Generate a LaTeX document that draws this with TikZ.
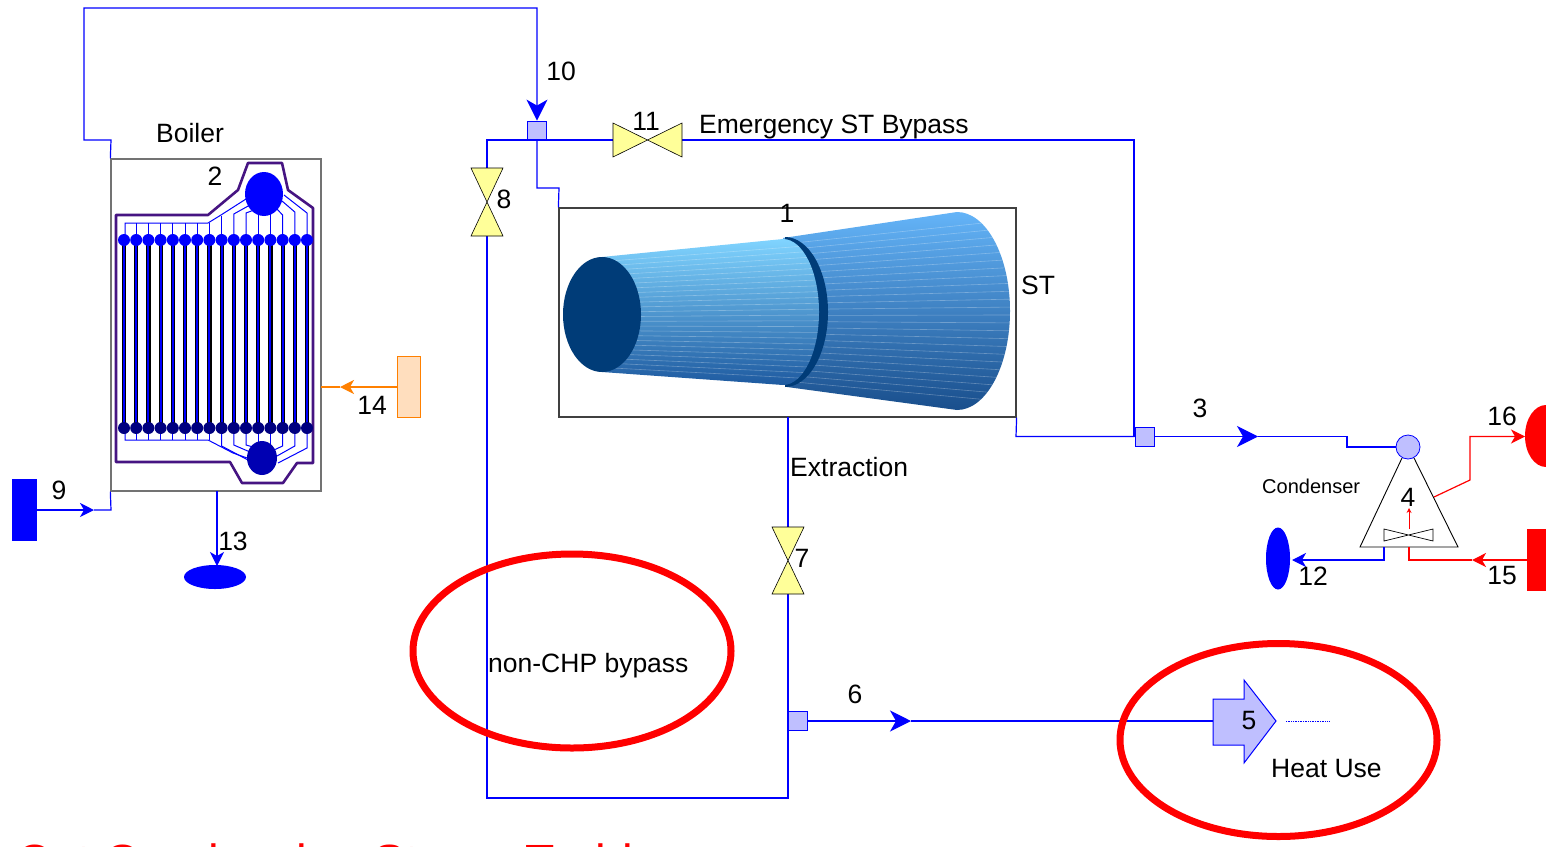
\documentclass[tikz,border=0pt]{standalone}
\usepackage{fontspec}
\setmainfont{Liberation Sans}
\usetikzlibrary{arrows.meta,shapes.geometric,calc}
\definecolor{pipeblue}{RGB}{0,0,255}
\definecolor{lav}{RGB}{191,191,255}
\definecolor{valvey}{RGB}{255,255,153}
\definecolor{navyst}{RGB}{0,60,120}
\definecolor{boilpurple}{RGB}{70,20,130}
\definecolor{peach}{RGB}{255,222,190}
\definecolor{orng}{RGB}{255,128,0}
\definecolor{hdrdark}{RGB}{0,0,128}
\definecolor{lt}{RGB}{128,212,255}
\definecolor{lm}{RGB}{90,165,235}
\definecolor{lb}{RGB}{30,90,160}
\definecolor{rt}{RGB}{100,180,248}
\definecolor{rm}{RGB}{65,135,210}
\definecolor{rb}{RGB}{25,78,140}
\begin{document}
\begin{tikzpicture}[x=1pt,y=-1pt,
  pipe/.style={draw=pipeblue,line width=1.2pt},
  redpipe/.style={draw=red,line width=1.2pt},
  lbl/.style={font=\fontsize{26.5}{30}\selectfont,inner sep=0pt},
  bigarr/.style={-{Stealth[length=21pt,width=21pt,inset=6pt]}},
  smallarr/.style={-{Stealth[length=14pt,width=14pt,inset=4pt]}},
  sq/.style={draw=pipeblue,fill=lav,minimum width=19pt,minimum height=19pt,inner sep=0pt,line width=0.8pt},
  valvefill/.style={fill=valvey,draw=black,line width=0.6pt},
  redring/.style={draw=red,line width=7pt},
  stripe/.style={draw=white,opacity=0.28,line width=0.6pt}]
\clip (0,0) rectangle (1546,846);
\fill[white] (0,0) rectangle (1546,846);

% ---------- main boxes
\node[draw=black!55,line width=1.3pt,minimum width=210pt,minimum height=332pt,inner sep=0pt] (boiler) at (216,325) {};
\node[draw=black!75,line width=1.2pt,minimum width=457pt,minimum height=209pt,inner sep=0pt] (st) at (787.5,312.5) {};

% ---------- turbine
\shade[top color=rt,middle color=rm,bottom color=rb] (783,238) -- (957,212) arc[start angle=90,end angle=-90,x radius=53pt,y radius=99pt] -- (787,387) -- cycle;
\begin{scope}
  \clip (783,238) -- (957,212) arc[start angle=90,end angle=-90,x radius=53pt,y radius=99pt] -- (787,387) -- cycle;
  \foreach \t in {0.04,0.08,...,0.97} {\draw[stripe] (785,238+149*\t) -- (1012,212+198*\t);}
\end{scope}
\fill[navyst] (785,237) arc[start angle=90,end angle=-90,x radius=43pt,y radius=75pt] -- cycle;
\shade[top color=lt,middle color=lm,bottom color=lb] (602,257) -- (783,239) arc[start angle=90,end angle=-90,x radius=36pt,y radius=73pt] -- (602,372) -- cycle;
\begin{scope}
  \clip (602,257) -- (783,239) arc[start angle=90,end angle=-90,x radius=36pt,y radius=73pt] -- (602,372) -- cycle;
  \foreach \t in {0.04,0.08,...,0.97} {\draw[stripe] (602,257+115*\t) -- (820,239+146*\t);}
\end{scope}
\fill[navyst] (602,314.5) ellipse [x radius=39pt,y radius=57.5pt];

% ---------- boiler internals
\draw[boilpurple,line width=2.6pt,line join=round] (116,215) -- (208,215) -- (238,190) -- (248,163) -- (282,163) -- (288,190) -- (313,208) -- (313,463) -- (297,463) -- (283,483) -- (242,483) -- (230,462) -- (116,462) -- cycle;
\begin{scope}[pipeblue,line width=1pt]
  \draw (125,240) -- (125,223) -- (208,223) -- (221,215) -- (246,199);
  \foreach \i in {1,...,7} {\draw (124+\i*12.2,240) -- (124+\i*12.2,223);}
  \draw (221.6,240) -- (221.6,216);
  \draw (233.8,240) -- (233.8,214) -- (250,205);
  \draw (246,240) -- (246,213) -- (254,210);
  \draw (258.2,240) -- (258.2,214);
  \draw (270.4,240) -- (270.4,214);
  \draw (282.6,240) -- (282.6,215) -- (276,208);
  \draw (294.8,240) -- (294.8,212) -- (282,201);
  \draw (307,240) -- (307,213) -- (284,195);
  \draw (125,428) -- (125,440) -- (208,440) -- (233,453) -- (250,459);
  \foreach \i in {1,...,7} {\draw (124+\i*12.2,428) -- (124+\i*12.2,440);}
  \draw (221.6,428) -- (221.6,446) -- (248,460);
  \draw (233.8,428) -- (233.8,445) -- (250,452);
  \draw (246,428) -- (246,445) -- (253,447);
  \draw (258.2,428) -- (258.2,444);
  \draw (270.4,428) -- (270.4,444);
  \draw (282.6,428) -- (282.6,446) -- (274,450);
  \draw (294.8,428) -- (294.8,446) -- (277,456);
  \draw (307,428) -- (307,448) -- (278,463);
\end{scope}
\foreach \i in {0,...,15} {
  \draw[black,line width=4.2pt] (124+\i*12.2,240) -- (124+\i*12.2,428);
  \draw[pipeblue,line width=2pt] (124+\i*12.2,240) -- (124+\i*12.2,428);
}
\foreach \i in {0,...,15} {
  \fill[pipeblue] (124+\i*12.2,240) circle[radius=6pt];
  \fill[hdrdark] (124+\i*12.2,428) circle[radius=6pt];
}
\fill[pipeblue] (264,194) ellipse [x radius=19pt,y radius=22pt];
\fill[blue!70!black] (262,458) ellipse [x radius=15pt,y radius=17pt];

% ---------- squares, condenser node
\node[sq] (s10) at (537,130.5) {};
\node[sq] (s3) at (1144.5,436.5) {};
\node[sq] (s6) at (798,721) {};
\node[circle,draw=pipeblue,fill=lav,minimum size=24pt,inner sep=0pt,line width=0.8pt] (cc) at (1408,447) {};

\coordinate (v8) at (487,202);
\coordinate (v7) at (788,560.5);
\coordinate (v11) at (647.5,140);
\coordinate (a3) at (1258,436.5);
\coordinate (a6) at (911,721);
\coordinate (hu) at (1213,721);

% ---------- pipes
\draw[pipe,bigarr] (boiler.north west) -- (111,140) -- (84,140) -- (84,8) -| (s10.north);
\draw[pipe] (487,168) -- (487,140) -- (613,140);
\draw[pipe] (682,140) -- (1134,140) -- (1134,436.5);
\draw[pipe] (s10.south) -- (537,188) -- (559,188) -- (st.north west);
\draw[pipe] (st.south east) -- (1016,436.5) -- (s3.west);
\draw[pipe,bigarr] (s3.east) -- (a3);
\draw[pipe] (a3) -- (1347,436.5) |- (cc.west);
\draw[pipe] (487,236) -- (487,798) -- (788,798) -- (788,594);
\draw[pipe] (788,527) -- (788,417);
\draw[pipe,bigarr] (s6.east) -- (a6);
\draw[pipe] (a6) -- (hu);

% ---------- valves
\draw[valvefill] (613,123) -- (v11) -- (613,157) -- cycle;
\draw[valvefill] (682,123) -- (v11) -- (682,157) -- cycle;
\draw[valvefill] (471,168) -- (503,168) -- (v8) -- cycle;
\draw[valvefill] (471,236) -- (503,236) -- (v8) -- cycle;
\draw[valvefill] (772,527) -- (804,527) -- (v7) -- cycle;
\draw[valvefill] (772,594) -- (804,594) -- (v7) -- cycle;

% ---------- boiler streams
\fill[pipeblue] (12,479) rectangle (37,541);
\draw[pipe,smallarr] (37,510) -- (94,510);
\draw[pipe] (94,510) -- (111,510) -- (boiler.south west);
\draw[pipe,smallarr] (217,491) -- (217,566);
\fill[pipeblue] (215,577) ellipse [x radius=31pt,y radius=12pt];
\draw[draw=orng,fill=peach,line width=1pt] (397,356) rectangle (420,417);
\draw[orng,line width=1.2pt,smallarr] (397,387) -- (340,387);
\draw[orng,line width=1.2pt] (340,387) -- (321,387);

% ---------- condenser
\draw[black,line width=0.9pt,line join=miter] (1402,458) -- (1360,547) -- (1458,547) -- (1414,458);
\draw[black,line width=0.7pt] (1384,529) -- (1433,541) -- (1433,529) -- (1384,541) -- cycle;
\draw[red,line width=0.8pt,-{Stealth[length=5pt,width=5pt]}] (1409,529) -- (1409,508);
\draw[redpipe,smallarr] (1434,497) -- (1470,480) -- (1470,436.5) -- (1525,436.5);
\fill[red] (1546,436) ellipse [x radius=21pt,y radius=31pt];
\fill[red] (1527,529) rectangle (1546,591);
\draw[redpipe,smallarr] (1527,560) -- (1472,560);
\draw[redpipe] (1472,560) -- (1409,560) -- (1409,547);
\draw[pipe,smallarr] (1384,547) -- (1384,560) -- (1292,560);
\fill[pipeblue] (1278,558.5) ellipse [x radius=12pt,y radius=31pt];

% ---------- heat use
\draw[draw=pipeblue,fill=lav,line width=1pt,line join=miter] (hu) -- (1213,699) -- (1244,699) -- (1244,680) -- (1276,721) -- (1244,763) -- (1244,745) -- (1213,745) -- cycle;
\draw[pipeblue,line width=0.8pt,dash pattern=on 1pt off 0.7pt] (1286,721) -- (1330,721);

% ---------- labels
\node[lbl] (l10) at (561,71) {10};
\node[lbl,anchor=base west] (lboiler) at (156,142) {Boiler};
\node[lbl] (l2) at (215,176) {2};
\node[lbl] (l11) at (646,121) {11};
\node[lbl,anchor=base west] (lemerg) at (699,133) {Emergency ST Bypass};
\node[lbl] (l8) at (504,199) {8};
\node[lbl] (l1) at (787,213) {1};
\node[lbl,anchor=base west] (lst) at (1021,294) {ST};
\node[lbl] (l3) at (1200,408) {3};
\node[lbl] (l14) at (372,405) {14};
\node[lbl] (l9) at (59,490) {9};
\node[lbl] (l13) at (233,541) {13};
\node[lbl,anchor=base west] (lextr) at (790,476) {Extraction};
\node[lbl] (l7) at (802,558) {7};
\node[inner sep=0pt,anchor=base west,font=\fontsize{20}{24}\selectfont] (lcond) at (1262,493) {Condenser};
\node[lbl] (l4) at (1408,497) {4};
\node[lbl] (l16) at (1502,416) {16};
\node[lbl] (l12) at (1313,576) {12};
\node[lbl] (l15) at (1502,576) {15};
\node[lbl,anchor=base west] (lnon) at (488,672) {non-CHP bypass};
\node[lbl] (l6) at (855,694) {6};
\node[lbl] (l5) at (1249,721) {5};
\node[lbl,anchor=base west] (lheat) at (1271,777) {Heat Use};
\node[anchor=base west,inner sep=0pt,text=red,font=\fontsize{48}{56}\selectfont] (title) at (16,878) {Cut Condensing Steam Turbine};

% ---------- red highlight rings
\draw[redring] (572,651) ellipse [x radius=159pt,y radius=97pt];
\draw[redring] (1278.5,740) ellipse [x radius=158.5pt,y radius=96.5pt];
\end{tikzpicture}
\end{document}
